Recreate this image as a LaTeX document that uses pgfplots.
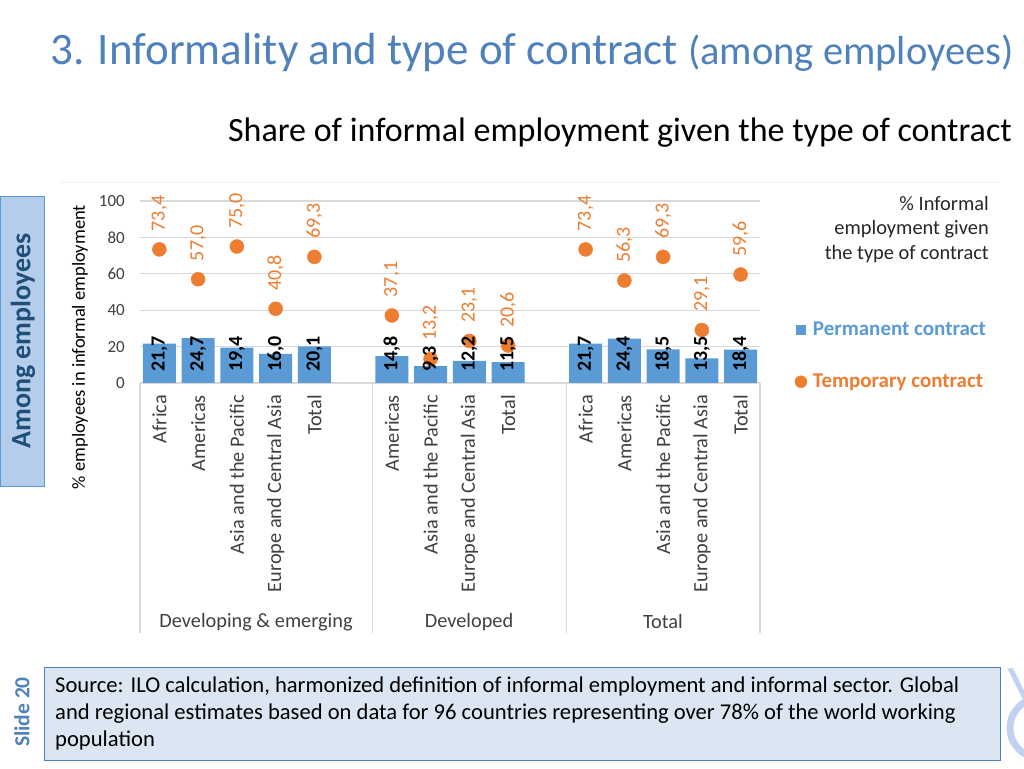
\documentclass[border=0pt]{standalone}
\usepackage{pgfplots}
\pgfplotsset{compat=1.18}
\usepackage{pgfplotstable}
\usepackage{fontspec}
\setmainfont{Carlito}
\definecolor{permblue}{HTML}{5B9BD5}
\definecolor{temporange}{HTML}{ED7D31}
\definecolor{titleblue}{HTML}{4F81BD}
\definecolor{gridgray}{HTML}{D9D9D9}
\definecolor{ticktext}{HTML}{404040}
\definecolor{boxfill}{HTML}{B4CDEB}
\definecolor{boxtext}{HTML}{1F4E79}
\definecolor{srcfill}{HTML}{DCE6F2}
\definecolor{srcborder}{HTML}{4F81BD}
\definecolor{logoblue}{HTML}{A9BDEA}
\newcommand{\fs}[2]{\fontsize{#1pt}{#2pt}\selectfont}
\pgfplotstableread{
x perm temp
0 21.7 73.4
1 24.7 57.0
2 19.4 75.0
3 16.0 40.8
4 20.1 69.3
6 14.8 37.1
7 9.3 13.2
8 12.2 23.1
9 11.5 20.6
11 21.7 73.4
12 24.4 56.3
13 18.5 69.3
14 13.5 29.1
15 18.4 59.6
}\datatable
\begin{document}
\begin{tikzpicture}[x=1pt,y=1pt]
\useasboundingbox (0,0) rectangle (1024,768);
\fill[white] (0,0) rectangle (1024,768);
% titles
\node[anchor=base west, inner sep=0, text=titleblue] at (50,703) {\fs{45}{52}3. Informality and type of contract {\fs{40.5}{46}(among employees)}};
\node[anchor=base east, inner sep=0] at (1012,626) {\fs{34}{40}Share of informal employment given the type of contract};
% faint chart frame
\draw[gray!12, line width=1] (60,585) -- (1000,585);
% side box
\draw[fill=boxfill, draw=permblue, line width=1] (0,281) rectangle (44,571);
\node[rotate=90, text=boxtext, font=\bfseries\fs{28}{32}] at (23,427) {Among employees};
% y label
\node[rotate=90, font=\fs{18.5}{21}] at (80,421) {\% employees in informal employment};
\begin{axis}[
  at={(140pt,385pt)}, anchor=south west,
  scale only axis, width=620pt, height=182pt,
  xmin=-0.5, xmax=15.5, ymin=0, ymax=100,
  clip=false,
  axis line style={draw=none},
  tick style={draw=none},
  ymajorgrids, ytick={0,20,...,100},
  major grid style={gridgray, line width=1.2pt},
  /pgf/number format/assume math mode=true,
  xtick={0,1,2,3,4,6,7,8,9,11,12,13,14,15},
  xticklabels={Africa,Americas,Asia and the Pacific,Europe and Central Asia,Total,Americas,Asia and the Pacific,Europe and Central Asia,Total,Africa,Americas,Asia and the Pacific,Europe and Central Asia,Total},
  xticklabel style={rotate=90, anchor=east, inner sep=0pt, font=\fs{20.3}{24}, text=ticktext},
  xticklabel shift=12pt,
  yticklabel style={anchor=east, inner sep=0pt, font=\fs{17}{20}, text=ticktext},
  yticklabel shift=15pt,
  legend style={at={(axis description cs:1.368,0.15)}, anchor=east, draw=none, fill=none, font=\bfseries\fs{21}{25}, row sep=33pt, inner sep=0pt},
  legend cell align=left,
]
\addplot[ybar, bar width=33pt, fill=permblue, draw=none,
  legend image code/.code={\path[draw=none] (-2pt,0) -- (15pt,0); \fill[permblue] (0pt,-5pt) rectangle (10pt,5pt);}]
  table[x=x,y=perm]{\datatable};
\addlegendentry{\textcolor{permblue}{Permanent contract}}
\addplot[only marks, mark=*, mark size=7pt, color=temporange, mark options={fill=temporange, draw=none},
  legend image code/.code={\path[draw=none] (-2pt,0) -- (15pt,0); \fill[temporange] (5pt,0pt) circle (6pt);}]
  table[x=x,y=temp]{\datatable};
\addlegendentry{\textcolor{temporange}{Temporary contract}}
% bar labels at the base
\addplot[draw=none, no marks, forget plot, point meta=explicit,
  nodes near coords={\pgfmathprintnumber[fixed,fixed zerofill,precision=1,use comma,assume math mode=true]{\pgfplotspointmeta}},
  nodes near coords align={anchor=west},
  every node near coord/.append style={yshift=11pt, rotate=90, anchor=west, inner sep=0pt, font=\bfseries\fs{20}{23}, text=black}]
  table[x=x, y expr=0, meta=perm]{\datatable};
% dot labels
\addplot[draw=none, no marks, forget plot, point meta=explicit,
  nodes near coords={\pgfmathprintnumber[fixed,fixed zerofill,precision=1,use comma,assume math mode=true]{\pgfplotspointmeta}},
  nodes near coords align={anchor=west},
  every node near coord/.append style={yshift=18pt, rotate=90, anchor=west, inner sep=0pt, font=\fs{20}{23}, text=temporange}]
  table[x=x, y=temp, meta=temp]{\datatable};
% group separators
\draw[gridgray, line width=1.2pt] (axis cs:-0.5,0) -- ++(0pt,-250pt);
\draw[gridgray, line width=1.2pt] (axis cs:5.5,0) -- ++(0pt,-250pt);
\draw[gridgray, line width=1.2pt] (axis cs:10.5,0) -- ++(0pt,-250pt);
\draw[gridgray, line width=1.2pt] (axis cs:15.5,0) -- ++(0pt,-250pt);
\end{axis}
% group labels
\node[font=\fs{20.3}{24}, text=ticktext] at (256,146) {Developing \& emerging};
\node[font=\fs{20.3}{24}, text=ticktext] at (469,146) {Developed};
\node[font=\fs{20.3}{24}, text=ticktext] at (663,146) {Total};
% legend heading
\node[anchor=north east, align=right, inner sep=0pt, font=\fs{20.4}{24.5}, text=black!85] at (989,572) {\% Informal\\employment given\\the type of contract};
% source box
\draw[fill=srcfill, draw=srcborder, line width=1] (44,8) rectangle (1000,101);
\node[anchor=north west, align=left, inner sep=0pt, font=\fs{22.6}{27}] at (55,91) {Source: ILO calculation, harmonized definition of informal employment and informal sector. Global\\and regional estimates based on data for 96 countries representing over 78\% of the world working\\population};
\node[rotate=90, text=titleblue, font=\bfseries\fs{21.5}{24}] at (22,56) {Slide 20};
% logo fragment
\begin{scope}
\clip (1001,0) rectangle (1024,100);
\draw[logoblue!70, line width=7pt] (1040,40) circle (30);
\draw[logoblue!70, line width=5pt] (1010,100) -- (1030,60);
\end{scope}
\end{tikzpicture}
\end{document}
